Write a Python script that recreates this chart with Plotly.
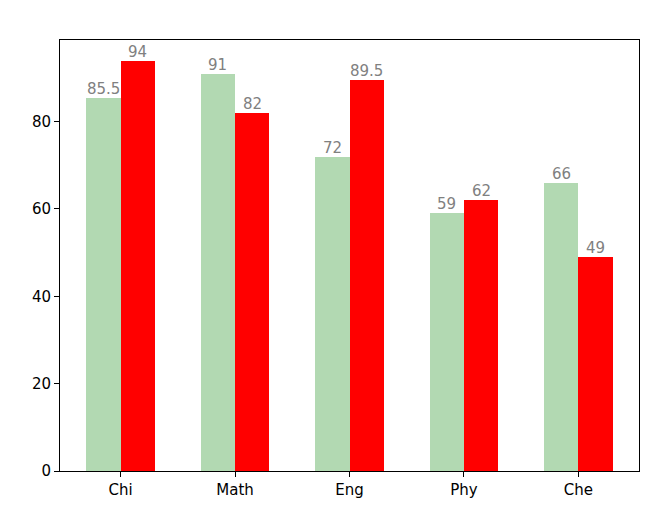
import plotly.graph_objects as go

categories = ["Chi", "Math", "Eng", "Phy", "Che"]
series_a = [85.5, 91, 72, 59, 66]
series_b = [94, 82, 89.5, 62, 49]

width = 0.3
idx = list(range(len(categories)))
xa = [i - width / 2 for i in idx]
xb = [i + width / 2 for i in idx]

fig = go.Figure()
fig.add_trace(go.Bar(x=xa, y=series_a, width=width, marker=dict(color="#b2d9b2", line=dict(width=0)), showlegend=False))
fig.add_trace(go.Bar(x=xb, y=series_b, width=width, marker=dict(color="#ff0000", line=dict(width=0)), showlegend=False))

def fmt(v):
    return str(int(v)) if float(v).is_integer() else str(v)

annotations = []
for xs, ys in ((xa, series_a), (xb, series_b)):
    for x, y in zip(xs, ys):
        annotations.append(dict(x=x, y=y, xref="x", yref="y", text=fmt(y), showarrow=False,
                                xanchor="center", yanchor="bottom", yshift=-2,
                                font=dict(color="#808080", size=15, family="DejaVu Sans")))

fig.update_layout(
    width=656, height=512,
    margin=dict(l=60, r=17, t=40, b=41),
    paper_bgcolor="white", plot_bgcolor="white",
    barmode="overlay", bargap=0,
    font=dict(family="DejaVu Sans", size=15, color="black"),
    annotations=annotations,
)
fig.update_xaxes(range=[-0.53, 4.53], tickvals=idx, ticktext=categories, showgrid=False, zeroline=False,
                 showline=True, linecolor="black", linewidth=1, mirror=True,
                 ticks="outside", ticklen=5, tickcolor="black")
fig.update_yaxes(range=[0, 98.7], tickvals=[0, 20, 40, 60, 80], showgrid=False, zeroline=False,
                 showline=True, linecolor="black", linewidth=1, mirror=True,
                 ticks="outside", ticklen=5, tickcolor="black")

fig.write_html("out.html")
